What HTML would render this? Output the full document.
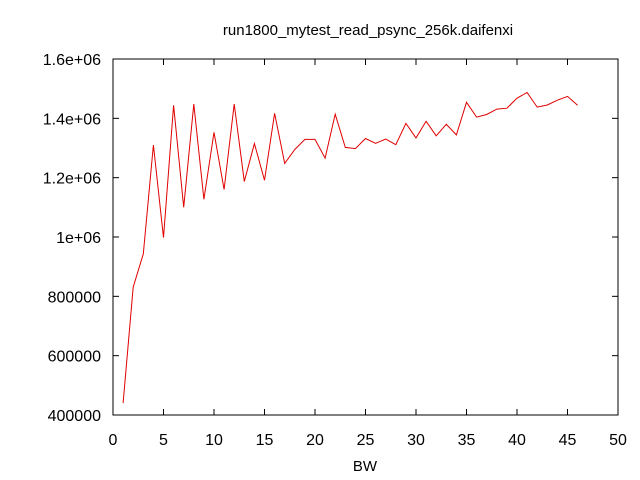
<!DOCTYPE html>
<html><head><meta charset="utf-8"><style>
html,body{margin:0;padding:0;background:#fff;}
svg{display:block;font-family:"Liberation Sans",sans-serif;}
</style></head><body>
<svg id="chart" width="640" height="480" viewBox="0 0 640 480" xmlns="http://www.w3.org/2000/svg">
<rect width="640" height="480" fill="#fff"/>
<text x="368" y="35" font-size="15" text-anchor="middle">run1800_mytest_read_psync_256k.daifenxi</text>
<g id="axes"></g>
<text x="365" y="471" font-size="15" text-anchor="middle">BW</text>
</svg>
<script>
const xValues = [1,2,3,4,5,6,7,8,9,10,11,12,13,14,15,16,17,18,19,20,21,22,23,24,25,26,27,28,29,30,31,32,33,34,35,36,37,38,39,40,41,42,43,44,45,46];
const yValues = [440000,831000,943000,1310000,998000,1444000,1100000,1448000,1127000,1353000,1160000,1448000,1187000,1315000,1191000,1417000,1248000,1295000,1329000,1329000,1266000,1414000,1302000,1298000,1332000,1316000,1330000,1311000,1383000,1334000,1390000,1341000,1380000,1344000,1454000,1404000,1413000,1431000,1434000,1468000,1487000,1438000,1445000,1461000,1474000,1444000];
const xTicks = [0,5,10,15,20,25,30,35,40,45,50];
const yTicks = [400000,600000,800000,1000000,1200000,1400000,1600000];
const yTickLabels = ["400000","600000","800000","1e+06","1.2e+06","1.4e+06","1.6e+06"];

const L=113,R=618,T=59,B=415;
const xMin=0,xMax=50,yMin=400000,yMax=1600000;
function sx(v){return L+(v-xMin)/(xMax-xMin)*(R-L);}
function sy(v){return B-(v-yMin)/(yMax-yMin)*(B-T);}
const NS="http://www.w3.org/2000/svg";
const g=document.getElementById('axes');
function mk(tag,attrs){const e=document.createElementNS(NS,tag);for(const k in attrs)e.setAttribute(k,attrs[k]);g.appendChild(e);return e;}

xTicks.forEach(v=>{
  const x=sx(v);
  const t1=mk('line',{x1:x,y1:B,x2:x,y2:B-6,stroke:'#000','stroke-width':1});
  
  
  const t2=mk('line',{x1:x,y1:T,x2:x,y2:T+6,stroke:'#000','stroke-width':1});
  
  
  const lb=mk('text',{x:x,y:445,'font-size':16,'text-anchor':'middle'});
  lb.textContent=String(v);
  
  
});
yTicks.forEach((v,i)=>{
  const y=sy(v);
  const t1=mk('line',{x1:L,y1:y,x2:L+6,y2:y,stroke:'#000','stroke-width':1});
  
  
  const t2=mk('line',{x1:R,y1:y,x2:R-6,y2:y,stroke:'#000','stroke-width':1});
  
  
  const lb=mk('text',{x:101,y:y+6,'font-size':16,'text-anchor':'end'});
  lb.textContent=yTickLabels[i];
  
  
});
const frame=mk('rect',{x:L,y:T,width:R-L,height:B-T,fill:'none',stroke:'#000','stroke-width':1});


const pts=xValues.map((x,i)=>sx(x).toFixed(1)+','+sy(yValues[i]).toFixed(1)).join(' ');
const line=mk('polyline',{points:pts,fill:'none',stroke:'#e00000','stroke-width':1});


</script>
</body></html>
